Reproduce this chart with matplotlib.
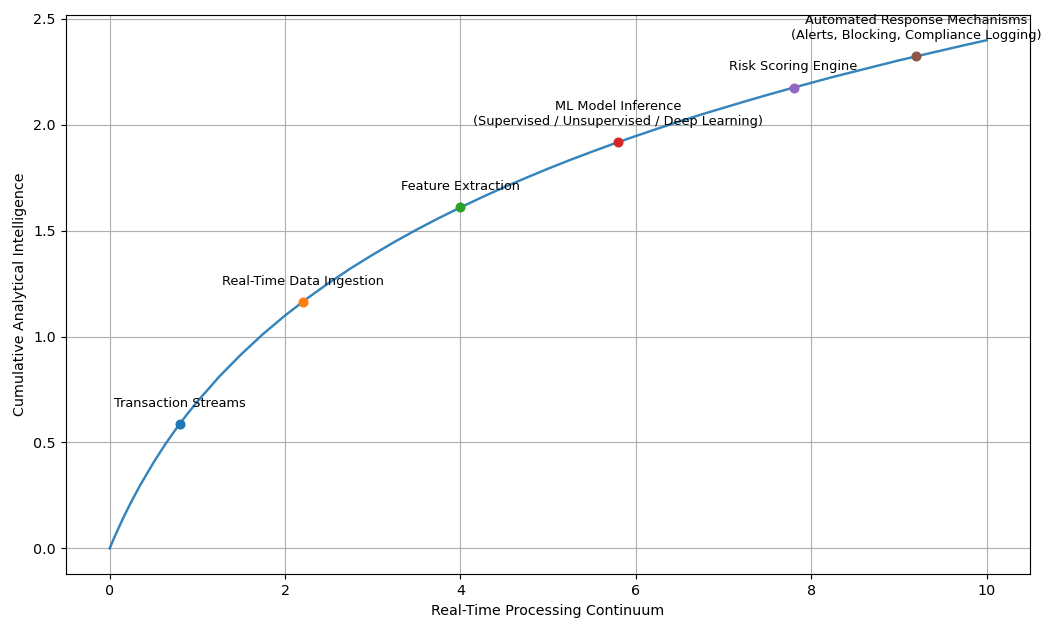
import matplotlib
matplotlib.use("Agg")
import matplotlib.pyplot as plt

# curve
curve_x = [0, 0.05, 0.1, 0.15, 0.2, 0.25, 0.35, 0.5, 0.625, 0.75, 0.875, 1,
           1.25, 1.5, 1.75, 2, 2.25, 2.5, 2.75, 3, 3.25, 3.5, 3.75, 4, 4.25,
           4.5, 4.75, 5, 5.25, 5.5, 5.75, 6, 6.25, 6.5, 6.75, 7, 7.25, 7.5,
           7.75, 8, 8.25, 8.5, 8.75, 9, 9.25, 9.5, 9.75, 10]
curve_y = [0, 0.049, 0.095, 0.140, 0.182, 0.223, 0.300, 0.405, 0.486, 0.560,
           0.629, 0.693, 0.811, 0.916, 1.012, 1.099, 1.179, 1.253, 1.322,
           1.386, 1.447, 1.504, 1.558, 1.609, 1.658, 1.705, 1.749, 1.792,
           1.833, 1.872, 1.910, 1.946, 1.981, 2.015, 2.048, 2.079, 2.110,
           2.140, 2.169, 2.197, 2.225, 2.251, 2.277, 2.303, 2.327, 2.351,
           2.375, 2.398]

# pipeline stages
stage_names = [
    "Transaction Streams",
    "Real-Time Data Ingestion",
    "Feature Extraction",
    "ML Model Inference\n(Supervised / Unsupervised / Deep Learning)",
    "Risk Scoring Engine",
    "Automated Response Mechanisms\n(Alerts, Blocking, Compliance Logging)",
]
stage_x = [0.8, 2.2, 4.0, 5.8, 7.8, 9.2]
stage_y = [0.588, 1.163, 1.609, 1.917, 2.175, 2.322]

dpi = 103
fig, ax = plt.subplots(figsize=(1045 / dpi, 619 / dpi), dpi=dpi)
fig.subplots_adjust(left=0.063, right=0.986, top=0.976, bottom=0.073)

ax.plot(curve_x, curve_y, color="#1f77b4", alpha=0.9, linewidth=1.7)

for i, (name, x, y) in enumerate(zip(stage_names, stage_x, stage_y)):
    ax.scatter(x, y, color="C%d" % i, zorder=3)
    ax.annotate(name, (x, y), xytext=(0, 10), textcoords="offset points",
                ha="center", va="bottom", fontsize=9)

ax.set_xlabel("Real-Time Processing Continuum")
ax.set_ylabel("Cumulative Analytical Intelligence")
ax.grid(True)

fig.savefig("out.png", dpi=dpi)
